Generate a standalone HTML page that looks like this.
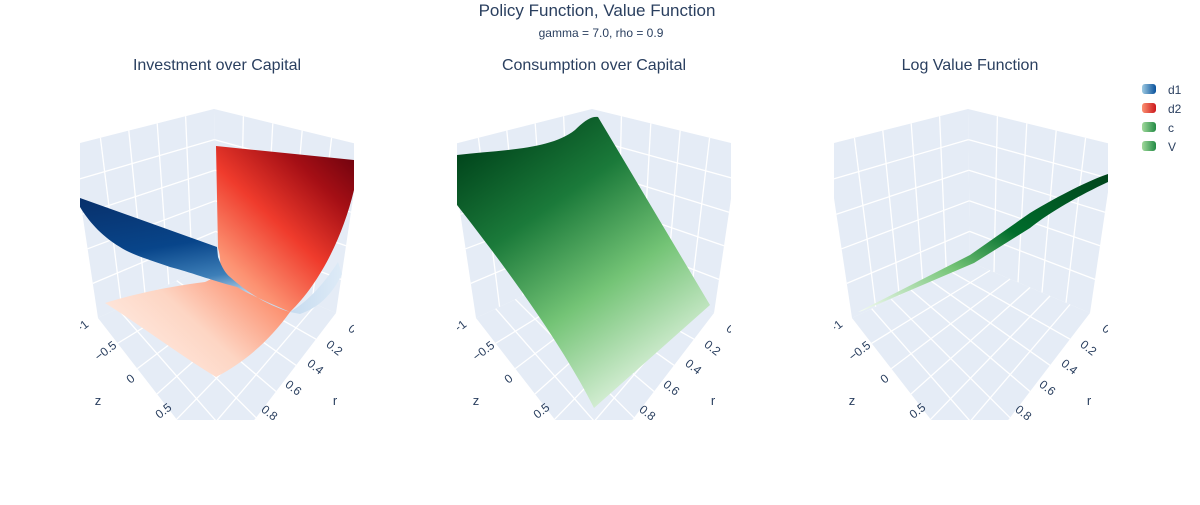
<!DOCTYPE html>
<html><head><meta charset="utf-8"><style>
body{margin:0;background:#fff;width:1200px;height:500px;overflow:hidden;font-family:"Liberation Sans",sans-serif}
text{font-family:"Liberation Sans",sans-serif;fill:#2a3f5f}
</style></head><body>
<svg id="chart" width="1200" height="500" xmlns="http://www.w3.org/2000/svg">
<defs>
<linearGradient id="gRed" x1="0" y1="1" x2="1" y2="0"><stop offset="0" stop-color="#fff5f0"/><stop offset="0.3" stop-color="#fdd5c3"/><stop offset="0.5" stop-color="#fc9272"/><stop offset="0.68" stop-color="#ef3b2c"/><stop offset="0.85" stop-color="#a50f15"/><stop offset="1" stop-color="#67000d"/></linearGradient>
<linearGradient id="gBlue" x1="0" y1="0" x2="0.3" y2="1"><stop offset="0" stop-color="#08306b"/><stop offset="0.5" stop-color="#08458a"/><stop offset="0.8" stop-color="#3d7fb8"/><stop offset="1" stop-color="#c6dbef"/></linearGradient>
<linearGradient id="gBlueLight" x1="0" y1="0" x2="1" y2="0"><stop offset="0" stop-color="#c6dbef"/><stop offset="1" stop-color="#deebf7"/></linearGradient>
<linearGradient id="gGreen" x1="0.2" y1="0" x2="0.8" y2="1"><stop offset="0" stop-color="#00441b"/><stop offset="0.3" stop-color="#1b7a3a"/><stop offset="0.6" stop-color="#74c476"/><stop offset="1" stop-color="#f7fcf5"/></linearGradient>
<linearGradient id="gGreenV" x1="0" y1="1" x2="1" y2="0"><stop offset="0" stop-color="#f7fcf5"/><stop offset="0.35" stop-color="#74c476"/><stop offset="0.6" stop-color="#006d2c"/><stop offset="1" stop-color="#00441b"/></linearGradient>
<clipPath id="c0"><rect x="80" y="85" width="274" height="335"/></clipPath>
<clipPath id="c1"><rect x="457" y="85" width="274" height="335"/></clipPath>
<clipPath id="c2"><rect x="834" y="85" width="274" height="335"/></clipPath>
<linearGradient id="lgB" x1="0" x2="1"><stop offset="0" stop-color="#9ecae1"/><stop offset="1" stop-color="#08519c"/></linearGradient>
<linearGradient id="lgR" x1="0" x2="1"><stop offset="0" stop-color="#fc9272"/><stop offset="1" stop-color="#cb181d"/></linearGradient>
<linearGradient id="lgG" x1="0" x2="1"><stop offset="0" stop-color="#a1d99b"/><stop offset="1" stop-color="#238b45"/></linearGradient>
</defs>
<text x="597" y="16" text-anchor="middle" font-size="17">Policy Function, Value Function</text>
<text x="601" y="37" text-anchor="middle" font-size="12">gamma = 7.0, rho = 0.9</text>
<text x="217" y="70" text-anchor="middle" font-size="16">Investment over Capital</text>
<text x="594" y="70" text-anchor="middle" font-size="16">Consumption over Capital</text>
<text x="970" y="70" text-anchor="middle" font-size="16">Log Value Function</text>
<g id="scenes"></g>
<g font-size="12">
<g><rect x="1142" y="84" width="14" height="10" rx="3" fill="url(#lgB)"/><text x="1168" y="94">d1</text></g>
<g><rect x="1142" y="103" width="14" height="10" rx="3" fill="url(#lgR)"/><text x="1168" y="113">d2</text></g>
<g><rect x="1142" y="122" width="14" height="10" rx="3" fill="url(#lgG)"/><text x="1168" y="132">c</text></g>
<g><rect x="1142" y="141" width="14" height="10" rx="3" fill="url(#lgG)"/><text x="1168" y="151">V</text></g>
</g>
</svg>
<script>
const zTicks=["−1","−0.5","0","0.5"];
const rTicks=["0","0.2","0.4","0.6","0.8"];
const offsets=[0,378,754];
const NS="http://www.w3.org/2000/svg";
const root=document.getElementById('scenes');
function mk(t,a,p){const e=document.createElementNS(NS,t);for(const k in a)e.setAttribute(k,a[k]);(p||root).appendChild(e);return e;}
const B=[216,262],T=[214,109],TL=[72,145],BL=[98,318],TR=[361,145],BR=[336,313],F=[216,470];
function lerp(a,b,t){return [a[0]+(b[0]-a[0])*t,a[1]+(b[1]-a[1])*t];}
function quad(q,u,v){return lerp(lerp(q[0],q[1],u),lerp(q[3],q[2],u),v);}
const surfaces=[
 [["M290,312 C310,300 325,282 338,262 L342,274 C332,295 318,308 300,314 Z","url(#gBlueLight)","surface-d1-tail"],
  ["M216,146 L354,160 L354,190 C342,240 318,285 290,312 C270,340 245,362 216,377 C180,355 140,325 105,303 C140,292 180,285 205,282 C222,275 222,262 218,248 Z","url(#gRed)","surface-d2"],
  ["M80,198 L217,247 L218,257 C222,268 226,274 230,277 C250,295 270,306 290,312 C270,303 250,295 237,287 C210,280 190,272 170,267 C150,260 130,254 120,247 C100,235 88,220 80,207 Z","url(#gBlue)","surface-d1"]],
 [["M457,155 C500,150 550,150 575,130 C585,120 592,116 598,117 L710,305 L594,408 C560,340 500,260 457,205 Z","url(#gGreen)","surface-c"]],
 [["M858,312 L970,255 L1030,213 C1060,195 1090,180 1108,174 L1108,182 C1080,195 1050,212 1030,228 L974,263 L862,311 Z","url(#gGreenV)","surface-v"]]
];
offsets.forEach((dx,i)=>{
 const g=mk('g',{'clip-path':`url(#c${i})`});
 
 
 const s=p=>[p[0]+dx,p[1]];
 const walls=[[T,TL,BL,B],[T,TR,BR,B],[B,BL,F,BR]];
 walls.forEach((q,wi)=>{
  const qq=q.map(s);
  const poly=mk('polygon',{points:qq.map(p=>p.join(',')).join(' '),fill:'#e5ecf6'},g);
  
  
  const n=wi==2?6:5;
  for(let k=1;k<n;k++){
   const t=k/n;
   let a=quad(qq,t,0),b=quad(qq,t,1);mk('line',{x1:a[0],y1:a[1],x2:b[0],y2:b[1],stroke:'#fff','stroke-width':1.3},g);
   a=quad(qq,0,t);b=quad(qq,1,t);mk('line',{x1:a[0],y1:a[1],x2:b[0],y2:b[1],stroke:'#fff','stroke-width':1.3},g);
  }
 });
 surfaces[i].forEach(sf=>{
  const p=mk('path',{d:sf[0],fill:sf[1]},g);
  
  
 });
 const zpos=[[84,330],[108,354],[133,382],[166,414]];
 zTicks.forEach((t,k)=>{
  const e=mk('text',{x:zpos[k][0]+dx,y:zpos[k][1],'font-size':12,'text-anchor':'middle',transform:`rotate(-38 ${zpos[k][0]+dx} ${zpos[k][1]})`},g);
  e.textContent=t;
  
  
 });
 const rpos=[[350,332],[332,351],[313,370],[291,391],[267,416]];
 rTicks.forEach((t,k)=>{
  const e=mk('text',{x:rpos[k][0]+dx,y:rpos[k][1],'font-size':12,'text-anchor':'middle',transform:`rotate(38 ${rpos[k][0]+dx} ${rpos[k][1]})`},g);
  e.textContent=t;
  
  
 });
 let e=mk('text',{x:98+dx,y:405,'font-size':13,'text-anchor':'middle'},g);e.textContent='z';
 
 
 e=mk('text',{x:335+dx,y:405,'font-size':13,'text-anchor':'middle'},g);e.textContent='r';
 
 
});
</script>
</body></html>
